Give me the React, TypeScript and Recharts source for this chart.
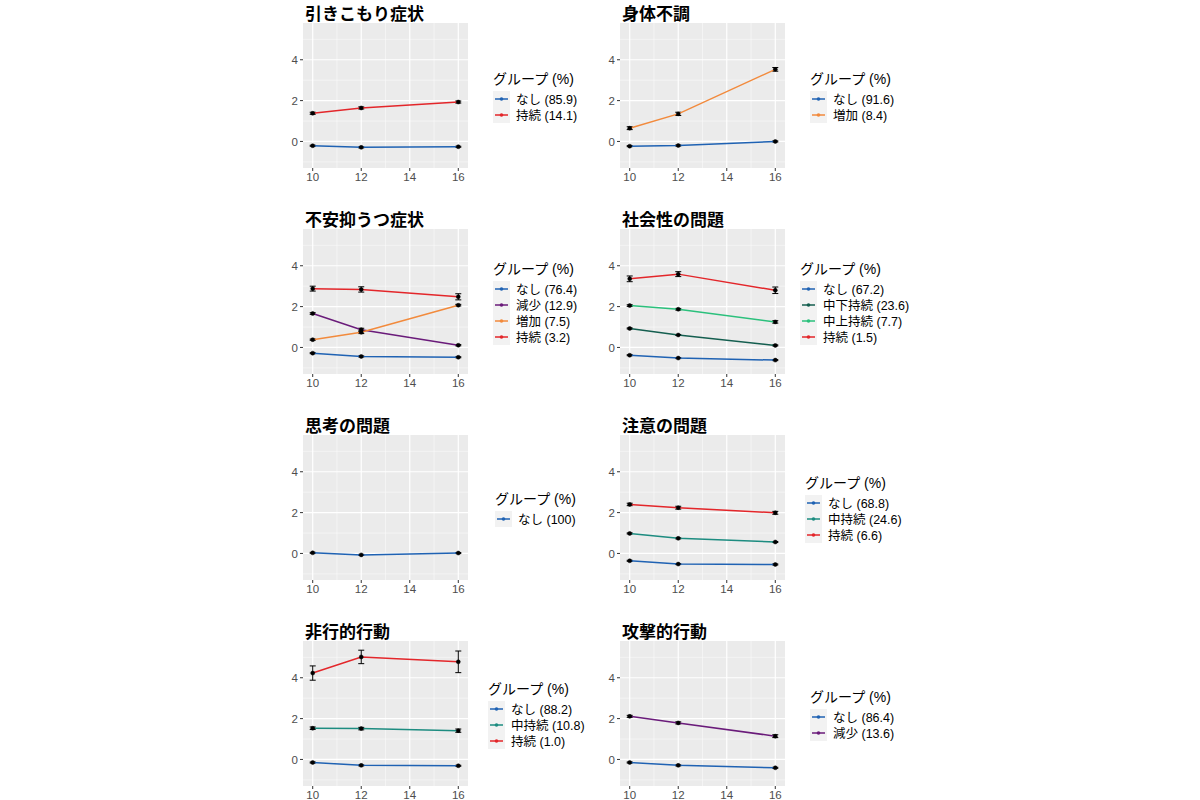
import React from "react";
import { LineChart, Line, XAxis, YAxis, CartesianGrid, ErrorBar } from "recharts";

// ages on the x axis
const ages = [10, 12, 16];
const xTicks = [10, 12, 14, 16];
const yTicks = [0, 2, 4];
const xMinor = [11, 13, 15];
const yMinor = [-1, 1, 3, 5];

// 引きこもり症状
const withdrawnNone = [-0.21, -0.29, -0.26];
const withdrawnPersist = [1.38, 1.64, 1.93];
const withdrawnPersistErr = [0.05, 0.05, 0.05];

// 身体不調
const somaticNone = [-0.23, -0.2, 0.0];
const somaticIncrease = [0.65, 1.35, 3.53];
const somaticIncreaseErr = [0.07, 0.08, 0.09];

// 不安抑うつ症状
const anxiousNone = [-0.28, -0.44, -0.48];
const anxiousDecrease = [1.66, 0.87, 0.11];
const anxiousDecreaseErr = [0.04, 0.07, 0.03];
const anxiousIncrease = [0.38, 0.74, 2.07];
const anxiousIncreaseErr = [0.03, 0.06, 0.04];
const anxiousPersist = [2.88, 2.84, 2.48];
const anxiousPersistErr = [0.12, 0.13, 0.15];

// 社会性の問題
const socialNone = [-0.38, -0.52, -0.62];
const socialLowMid = [0.93, 0.61, 0.1];
const socialHighMid = [2.05, 1.87, 1.25];
const socialHighMidErr = [0.04, 0.04, 0.06];
const socialPersist = [3.36, 3.59, 2.8];
const socialPersistErr = [0.14, 0.12, 0.16];

// 思考の問題
const thoughtNone = [0.03, -0.07, 0.02];

// 注意の問題
const attentionNone = [-0.36, -0.52, -0.54];
const attentionMid = [0.98, 0.74, 0.56];
const attentionPersist = [2.4, 2.24, 1.99];
const attentionPersistErr = [0.06, 0.07, 0.07];

// 非行的行動
const delinquentNone = [-0.15, -0.29, -0.31];
const delinquentMid = [1.53, 1.51, 1.41];
const delinquentMidErr = [0.06, 0.06, 0.08];
const delinquentPersist = [4.23, 5.02, 4.78];
const delinquentPersistErr = [0.35, 0.33, 0.53];

// 攻撃的行動
const aggressiveNone = [-0.15, -0.29, -0.41];
const aggressiveDecrease = [2.11, 1.79, 1.14];
const aggressiveDecreaseErr = [0.05, 0.05, 0.07];

const smallErr = [0.025, 0.025, 0.025];

const BLUE = "#1f62b3";
const RED = "#e3262a";
const ORANGE = "#f28a3c";
const PURPLE = "#6a1b7a";
const DARK_TEAL = "#145e4f";
const GREEN = "#2bc07c";
const TEAL = "#1d8c80";

const FONT = '"Liberation Sans", Arial, "Noto Sans CJK JP", sans-serif';

function toRows(values: number[], errs: number[]) {
  return ages.map((age, i) => ({ age, value: values[i], err: errs[i] }));
}

const panels = [
  {
    title: "引きこもり症状", col: 0, row: 0, legendX: 493,
    series: [
      { name: "なし (85.9)", color: BLUE, values: withdrawnNone, errs: smallErr },
      { name: "持続 (14.1)", color: RED, values: withdrawnPersist, errs: withdrawnPersistErr },
    ],
  },
  {
    title: "身体不調", col: 1, row: 0, legendX: 810,
    series: [
      { name: "なし (91.6)", color: BLUE, values: somaticNone, errs: smallErr },
      { name: "増加 (8.4)", color: ORANGE, values: somaticIncrease, errs: somaticIncreaseErr },
    ],
  },
  {
    title: "不安抑うつ症状", col: 0, row: 1, legendX: 493,
    series: [
      { name: "なし (76.4)", color: BLUE, values: anxiousNone, errs: smallErr },
      { name: "減少 (12.9)", color: PURPLE, values: anxiousDecrease, errs: anxiousDecreaseErr },
      { name: "増加 (7.5)", color: ORANGE, values: anxiousIncrease, errs: anxiousIncreaseErr },
      { name: "持続 (3.2)", color: RED, values: anxiousPersist, errs: anxiousPersistErr },
    ],
  },
  {
    title: "社会性の問題", col: 1, row: 1, legendX: 800,
    series: [
      { name: "なし (67.2)", color: BLUE, values: socialNone, errs: smallErr },
      { name: "中下持続 (23.6)", color: DARK_TEAL, values: socialLowMid, errs: smallErr },
      { name: "中上持続 (7.7)", color: GREEN, values: socialHighMid, errs: socialHighMidErr },
      { name: "持続 (1.5)", color: RED, values: socialPersist, errs: socialPersistErr },
    ],
  },
  {
    title: "思考の問題", col: 0, row: 2, legendX: 495,
    series: [{ name: "なし (100)", color: BLUE, values: thoughtNone, errs: smallErr }],
  },
  {
    title: "注意の問題", col: 1, row: 2, legendX: 805,
    series: [
      { name: "なし (68.8)", color: BLUE, values: attentionNone, errs: smallErr },
      { name: "中持続 (24.6)", color: TEAL, values: attentionMid, errs: smallErr },
      { name: "持続 (6.6)", color: RED, values: attentionPersist, errs: attentionPersistErr },
    ],
  },
  {
    title: "非行的行動", col: 0, row: 3, legendX: 488,
    series: [
      { name: "なし (88.2)", color: BLUE, values: delinquentNone, errs: smallErr },
      { name: "中持続 (10.8)", color: TEAL, values: delinquentMid, errs: delinquentMidErr },
      { name: "持続 (1.0)", color: RED, values: delinquentPersist, errs: delinquentPersistErr },
    ],
  },
  {
    title: "攻撃的行動", col: 1, row: 3, legendX: 810,
    series: [
      { name: "なし (86.4)", color: BLUE, values: aggressiveNone, errs: smallErr },
      { name: "減少 (13.6)", color: PURPLE, values: aggressiveDecrease, errs: aggressiveDecreaseErr },
    ],
  },
];

const PLOT_LEFT = [303, 620];
const PLOT_W = 165;
const PLOT_H = 145;
const AXIS_W = 40;
const AXIS_H = 24;

function Panel({ panel }: { panel: (typeof panels)[number] }) {
  const plotTop = 23 + 206 * panel.row;
  const plotLeft = PLOT_LEFT[panel.col];
  return (
    <>
      <div
        style={{
          position: "absolute",
          left: plotLeft + 2,
          top: plotTop - 20,
          fontFamily: '"Noto Sans CJK JP", sans-serif',
          fontWeight: 700,
          fontSize: 17,
          lineHeight: "20px",
          color: "#000",
        }}
      >
        {panel.title}
      </div>
      <div style={{ position: "absolute", left: plotLeft - AXIS_W, top: plotTop }}>
        <LineChart
          width={PLOT_W + AXIS_W}
          height={PLOT_H + AXIS_H}
          margin={{ top: 0, right: 0, left: 0, bottom: 0 }}
        >
          <CartesianGrid
            fill="#ebebeb"
            stroke="#fafafa"
            strokeWidth={0.6}
            horizontalValues={yMinor}
            verticalValues={xMinor}
          />
          <CartesianGrid
            stroke="#ffffff"
            strokeWidth={1.2}
            horizontalValues={yTicks}
            verticalValues={xTicks}
          />
          <XAxis
            type="number"
            dataKey="age"
            domain={[9.6, 16.4]}
            ticks={xTicks}
            allowDataOverflow
            height={AXIS_H}
            tickSize={3}
            tickMargin={2}
            axisLine={false}
            tickLine={{ stroke: "#333" }}
            tick={{ fill: "#4d4d4d", fontSize: 11.5, fontFamily: FONT }}
          />
          <YAxis
            type="number"
            domain={[-1.3, 5.8]}
            ticks={yTicks}
            allowDataOverflow
            width={AXIS_W}
            tickSize={3}
            tickMargin={2}
            axisLine={false}
            tickLine={{ stroke: "#333" }}
            tick={{ fill: "#4d4d4d", fontSize: 11.5, fontFamily: FONT }}
          />
          {panel.series.map((s) => (
            <Line
              key={s.name}
              data={toRows(s.values, s.errs)}
              dataKey="value"
              type="linear"
              stroke={s.color}
              strokeWidth={1.5}
              dot={{ r: 2, fill: "#000", stroke: "#000", strokeWidth: 0.5 }}
              isAnimationActive={false}
            >
              <ErrorBar dataKey="err" direction="y" width={3} stroke="#000" strokeWidth={1} />
            </Line>
          ))}
        </LineChart>
      </div>
      <div
        style={{
          position: "absolute",
          left: panel.legendX,
          top: plotTop,
          height: PLOT_H,
          display: "flex",
          flexDirection: "column",
          justifyContent: "center",
          fontFamily: FONT,
          color: "#000",
        }}
      >
        <div style={{ fontSize: 14, lineHeight: "20px", marginBottom: 2 }}>グループ (%)</div>
        <div>
          {panel.series.map((s) => (
            <div key={s.name} style={{ display: "flex", alignItems: "center", height: 16 }}>
              <svg width={17} height={16} style={{ background: "#f2f2f2", display: "block" }}>
                <line x1={2} x2={15} y1={8} y2={8} stroke={s.color} strokeWidth={1.5} />
                <circle cx={8.5} cy={8} r={1.8} fill={s.color} />
              </svg>
              <span style={{ fontSize: 12.5, marginLeft: 6, whiteSpace: "nowrap" }}>{s.name}</span>
            </div>
          ))}
        </div>
      </div>
    </>
  );
}

export default function App() {
  return (
    <div
      style={{
        position: "absolute",
        left: 0,
        top: 0,
        width: 1200,
        height: 800,
        background: "#fff",
        overflow: "hidden",
      }}
    >
      {panels.map((p) => (
        <Panel key={p.title} panel={p} />
      ))}
    </div>
  );
}
